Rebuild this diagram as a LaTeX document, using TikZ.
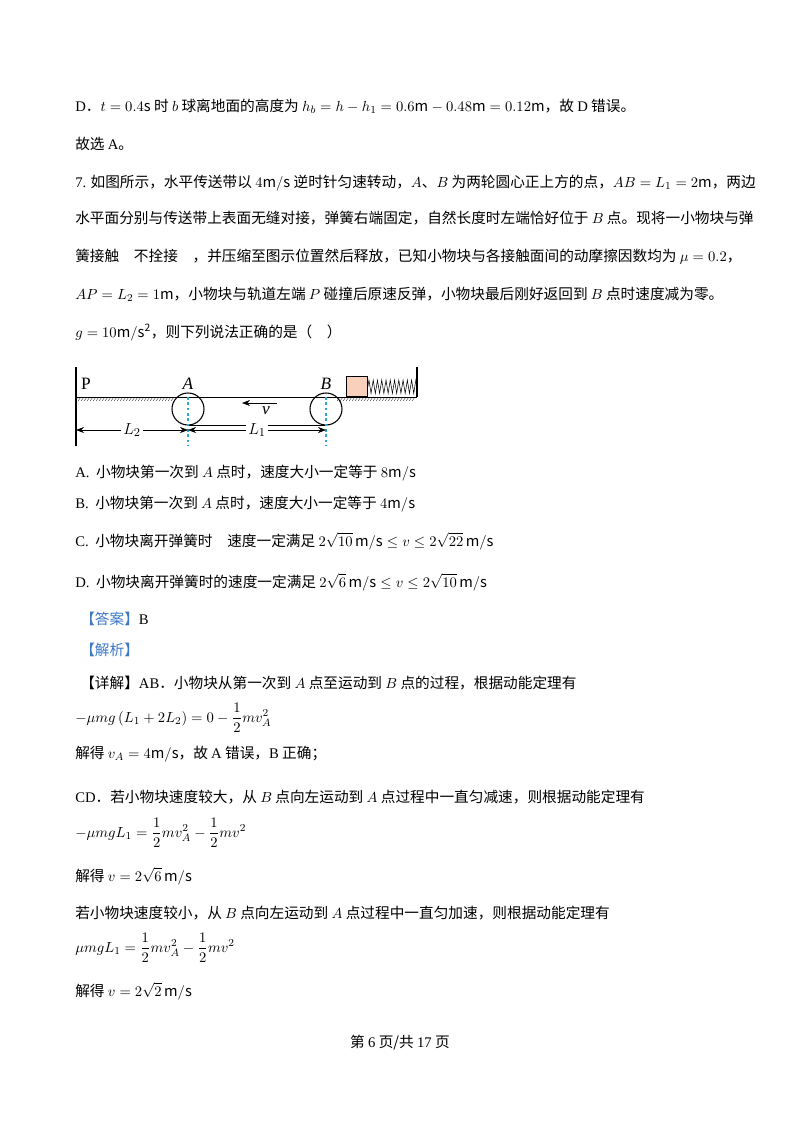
\documentclass[tikz,border=0pt]{standalone}
\usepackage{amsmath}
\usepackage{fontspec}
\setmainfont{Noto Sans CJK SC}
\newfontfamily\latn{Liberation Serif}
\newcommand{\lat}[1]{{\latn #1}}
\usepackage{tikz}
\usetikzlibrary{positioning,arrows.meta,decorations.pathmorphing}
\definecolor{blockpink}{RGB}{248,208,188}
\definecolor{ansblue}{RGB}{60,120,200}
\definecolor{dashcyan}{RGB}{40,170,210}

\begin{document}
\begin{tikzpicture}[x=0.75pt,y=-0.75pt,
    every node/.style={font=\fontsize{11}{13}\selectfont},
    txt/.style={anchor=base west,inner sep=0pt},
    lbl/.style={font=\fontsize{13}{15}\selectfont\latn\itshape,inner sep=0pt},
    wheel/.style={circle,draw,thick,minimum size=24,inner sep=0pt},
    dim/.style={{Stealth[length=6pt]}-{Stealth[length=6pt]},thin}
]
\useasboundingbox[fill=white] (0,0) rectangle (800,1132);

% Text before the figure
\node[txt] (t1) at (75,111) {\lat{D}．$t=0.4\mathrm{s}$ 时 $b$ 球离地面的高度为 $h_b=h-h_1=0.6\mathrm{m}-0.48\mathrm{m}=0.12\mathrm{m}$，故 \lat{D} 错误。};
\node[txt] (t2) at (75,149) {故选 \lat{A}。};
\node[txt] (t3) at (75,187) {\lat{7.} 如图所示，水平传送带以 $4\mathrm{m/s}$ 逆时针匀速转动，$A$、$B$ 为两轮圆心正上方的点，$AB=L_1=2\mathrm{m}$，两边};
\node[txt] (t4) at (75,223) {水平面分别与传送带上表面无缝对接，弹簧右端固定，自然长度时左端恰好位于 $B$ 点。现将一小物块与弹};
\node[txt] (t5) at (75,261) {簧接触\quad 不拴接\quad ，并压缩至图示位置然后释放，已知小物块与各接触面间的动摩擦因数均为 $\mu=0.2$，};
\node[txt] (t6) at (75,299) {$AP=L_2=1\mathrm{m}$，小物块与轨道左端 $P$ 碰撞后原速反弹，小物块最后刚好返回到 $B$ 点时速度减为零。};
\node[txt] (t7) at (75,337) {$g=10\mathrm{m/s^2}$，则下列说法正确的是（\quad ）};

% Figure
\coordinate (pl) at (76,397);
\coordinate (pt) at (76,367);
\coordinate (pb) at (76,446);
\coordinate (rw) at (417,397);
\coordinate (rt) at (417,367);
\draw[thick] (pt) -- (pb);
\draw[thick] (rt) -- (rw);
\draw (pl) -- (rw);
\foreach \x in {78,81,...,174} \draw[very thin] (\x,397) -- (\x-3,401);
\foreach \x in {340,343,...,416} \draw[very thin] (\x,397) -- (\x-3,401);
\node[wheel] (wa) at (188,409) {};
\node[wheel] (wb) at (326,409) {};
\draw (wa.south) -- (wb.south);
\node[font=\fontsize{13}{15}\selectfont\latn,inner sep=0pt] (p) at (86,384) {P};
\node[lbl] (la) at (188,384) {A};
\node[lbl] (lb) at (326,384) {B};
\coordinate (va) at (277,403);
\coordinate (vb) at (242,403);
\draw[-{Stealth[length=6pt]}] (va) -- (vb);
\node[lbl] (v) at (266,411) {v};
\node[draw,fill=blockpink,minimum width=16,minimum height=15,inner sep=0pt,anchor=south west] (blk) at (346,397) {};
\draw[decorate,decoration={zigzag,segment length=3.2,amplitude=5}] (blk.east) -- (rw |- blk.east);
\coordinate (da) at (188,397);
\coordinate (db) at (326,397);
\draw[dashcyan,dashed,thick,dash pattern=on 2pt off 2pt] (da) -- ++(0,49);
\draw[dashcyan,dashed,thick,dash pattern=on 2pt off 2pt] (db) -- ++(0,49);
\coordinate (d0) at (76,430);
\coordinate (d1) at (188,430);
\coordinate (d2) at (326,430);
\draw[dim] (d0) -- node[fill=white,inner sep=2pt,font=\fontsize{13}{15}\selectfont] (l2) {$L_2$} (d1);
\draw[dim] (d1) -- node[fill=white,inner sep=2pt,font=\fontsize{13}{15}\selectfont] (l1) {$L_1$} (d2);

% Options
\node[txt] (oa) at (75,477) {\lat{A.}\ \ 小物块第一次到 $A$ 点时，速度大小一定等于 $8\mathrm{m/s}$};
\node[txt] (ob) at (75,508) {\lat{B.}\ \ 小物块第一次到 $A$ 点时，速度大小一定等于 $4\mathrm{m/s}$};
\node[txt] (oc) at (75,546) {\lat{C.}\ \ 小物块离开弹簧时\quad 速度一定满足 $2\sqrt{10}\,\mathrm{m/s}\le v\le 2\sqrt{22}\,\mathrm{m/s}$};
\node[txt] (od) at (75,587) {\lat{D.}\ \ 小物块离开弹簧时的速度一定满足 $2\sqrt{6}\,\mathrm{m/s}\le v\le 2\sqrt{10}\,\mathrm{m/s}$};

% Solution
\node[txt] (ans) at (80,624) {\textcolor{ansblue}{【答案】}\lat{B}};
\node[txt] (ana) at (80,655) {\textcolor{ansblue}{【解析】}};
\node[txt] (s1) at (80,688) {【详解】\lat{AB}．小物块从第一次到 $A$ 点至运动到 $B$ 点的过程，根据动能定理有};
\node[txt] (e1) at (75,722) {$-\mu mg\left(L_1+2L_2\right)=0-\dfrac{1}{2}mv_A^2$};
\node[txt] (s2) at (75,758) {解得 $v_A=4\mathrm{m/s}$，故 \lat{A} 错误，\lat{B} 正确；};
\node[txt] (s3) at (75,802) {\lat{CD}．若小物块速度较大，从 $B$ 点向左运动到 $A$ 点过程中一直匀减速，则根据动能定理有};
\node[txt] (e2) at (75,837) {$-\mu mgL_1=\dfrac{1}{2}mv_A^2-\dfrac{1}{2}mv^2$};
\node[txt] (s4) at (75,881) {解得 $v=2\sqrt{6}\,\mathrm{m/s}$};
\node[txt] (s5) at (75,918) {若小物块速度较小，从 $B$ 点向左运动到 $A$ 点过程中一直匀加速，则根据动能定理有};
\node[txt] (e3) at (75,952) {$\mu mgL_1=\dfrac{1}{2}mv_A^2-\dfrac{1}{2}mv^2$};
\node[txt] (s6) at (75,996) {解得 $v=2\sqrt{2}\,\mathrm{m/s}$};

% Footer
\node[anchor=base,inner sep=0pt] (foot) at (400,1047) {第 \lat{6} 页/共 \lat{17} 页};
\end{tikzpicture}
\end{document}
